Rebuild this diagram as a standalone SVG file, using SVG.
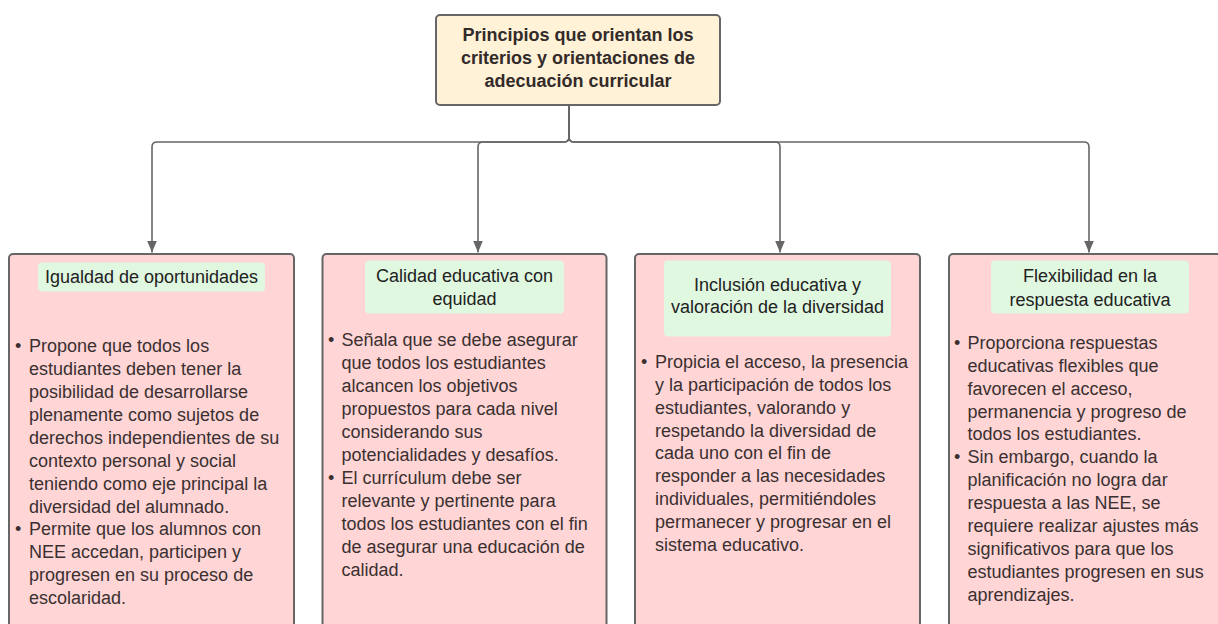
<svg xmlns="http://www.w3.org/2000/svg" width="1218" height="624" viewBox="0 0 1218 624">
<style>
.bg{fill:#ffffff}
.top{fill:#fff2d6;stroke:#666666;stroke-width:2}
.card{fill:#ffd5d6;stroke:#666666;stroke-width:2}
.head{fill:#e0f7e0;stroke:none}
.tt{font-family:"Liberation Sans",Arial,sans-serif;font-size:18px;font-weight:bold;fill:#332a2a;text-anchor:middle}
.ht{font-family:"Liberation Sans",Arial,sans-serif;font-size:18px;fill:#222222;text-anchor:middle}
.bt{font-family:"Liberation Sans",Arial,sans-serif;font-size:18px;fill:#3a3030}
.conn{fill:none;stroke:#666666;stroke-width:1.6}
</style>
<defs>
<marker id="arr" viewBox="0 0 12 10" refX="12" refY="5" markerWidth="12" markerHeight="10" markerUnits="userSpaceOnUse" orient="auto">
<path d="M0 0 L12 5 L0 10 Z" fill="#666666"/>
</marker>
</defs>
<rect class="bg" x="0" y="0" width="1218" height="624"/>
<g id="connectors">
<path class="conn" d="M569 105 V137 Q569 142 564 142 H157 Q152 142 152 147 V252.5" marker-end="url(#arr)"/>
<path class="conn" d="M569 105 V137 Q569 142 564 142 H483 Q478 142 478 147 V252.5" marker-end="url(#arr)"/>
<path class="conn" d="M569 105 V137 Q569 142 574 142 H775 Q780 142 780 147 V252.5" marker-end="url(#arr)"/>
<path class="conn" d="M569 105 V137 Q569 142 574 142 H1084 Q1089 142 1089 147 V252.5" marker-end="url(#arr)"/>
</g>
<g id="root">
<rect class="top" x="436" y="15" width="284" height="90" rx="4"/>
<text class="tt" x="578" y="41">Principios que orientan los</text>
<text class="tt" x="578" y="64">criterios y orientaciones de</text>
<text class="tt" x="578" y="87">adecuación curricular</text>
</g>
<g id="igualdad">
<rect class="card" x="9" y="254" width="285" height="390" rx="4"/>
<rect class="head" x="38" y="262.5" width="227" height="29" rx="4"/>
<text class="ht" x="151.5" y="282.5">Igualdad de oportunidades</text>
<text class="bt" x="15" y="352.2">•</text>
<text class="bt" x="15" y="535.4">•</text>
<text class="bt" x="29">
<tspan x="29" y="352.2">Propone que todos los</tspan>
<tspan x="29" y="375.1">estudiantes deben tener la</tspan>
<tspan x="29" y="398">posibilidad de desarrollarse</tspan>
<tspan x="29" y="420.9">plenamente como sujetos de</tspan>
<tspan x="29" y="443.8">derechos independientes de su</tspan>
<tspan x="29" y="466.7">contexto personal y social</tspan>
<tspan x="29" y="489.6">teniendo como eje principal la</tspan>
<tspan x="29" y="512.5">diversidad del alumnado.</tspan>
<tspan x="29" y="535.4">Permite que los alumnos con</tspan>
<tspan x="29" y="558.3">NEE accedan, participen y</tspan>
<tspan x="29" y="581.2">progresen en su proceso de</tspan>
<tspan x="29" y="604.1">escolaridad.</tspan>
</text>
</g>
<g id="calidad">
<rect class="card" x="322.5" y="254" width="284" height="390" rx="4"/>
<rect class="head" x="365" y="260.5" width="199" height="53" rx="4"/>
<text class="ht" x="464.5" y="282">Calidad educativa con</text>
<text class="ht" x="464.5" y="305">equidad</text>
<text class="bt" x="328" y="345.5">•</text>
<text class="bt" x="328" y="483.5">•</text>
<text class="bt">
<tspan x="341.5" y="345.5">Señala que se debe asegurar</tspan>
<tspan x="341.5" y="368.5">que todos los estudiantes</tspan>
<tspan x="341.5" y="391.5">alcancen los objetivos</tspan>
<tspan x="341.5" y="414.5">propuestos para cada nivel</tspan>
<tspan x="341.5" y="437.5">considerando sus</tspan>
<tspan x="341.5" y="460.5">potencialidades y desafíos.</tspan>
<tspan x="341.5" y="483.5">El currículum debe ser</tspan>
<tspan x="341.5" y="506.5">relevante y pertinente para</tspan>
<tspan x="341.5" y="529.5">todos los estudiantes con el fin</tspan>
<tspan x="341.5" y="552.5">de asegurar una educación de</tspan>
<tspan x="341.5" y="575.5">calidad.</tspan>
</text>
</g>
<g id="inclusion">
<rect class="card" x="635" y="254" width="285" height="390" rx="4"/>
<rect class="head" x="664" y="260.5" width="227" height="76" rx="4"/>
<text class="ht" x="777.5" y="290.5">Inclusión educativa y</text>
<text class="ht" x="777.5" y="312.5">valoración de la diversidad</text>
<text class="bt" x="641" y="368.2">•</text>
<text class="bt">
<tspan x="655" y="368.2">Propicia el acceso, la presencia</tspan>
<tspan x="655" y="391">y la participación de todos los</tspan>
<tspan x="655" y="413.8">estudiantes, valorando y</tspan>
<tspan x="655" y="436.6">respetando la diversidad de</tspan>
<tspan x="655" y="459.4">cada uno con el fin de</tspan>
<tspan x="655" y="482.2">responder a las necesidades</tspan>
<tspan x="655" y="505">individuales, permitiéndoles</tspan>
<tspan x="655" y="527.8">permanecer y progresar en el</tspan>
<tspan x="655" y="550.6">sistema educativo.</tspan>
</text>
</g>
<g id="flexibilidad">
<rect class="card" x="949" y="254" width="285" height="390" rx="4"/>
<rect class="head" x="991" y="260.5" width="198" height="53" rx="4"/>
<text class="ht" x="1090" y="282">Flexibilidad en la</text>
<text class="ht" x="1090" y="305.5">respuesta educativa</text>
<text class="bt" x="954" y="348.8">•</text>
<text class="bt" x="954" y="463.3">•</text>
<text class="bt">
<tspan x="967.5" y="348.8">Proporciona respuestas</tspan>
<tspan x="967.5" y="371.7">educativas flexibles que</tspan>
<tspan x="967.5" y="394.6">favorecen el acceso,</tspan>
<tspan x="967.5" y="417.5">permanencia y progreso de</tspan>
<tspan x="967.5" y="440.4">todos los estudiantes.</tspan>
<tspan x="967.5" y="463.3">Sin embargo, cuando la</tspan>
<tspan x="967.5" y="486.2">planificación no logra dar</tspan>
<tspan x="967.5" y="509.1">respuesta a las NEE, se</tspan>
<tspan x="967.5" y="532">requiere realizar ajustes más</tspan>
<tspan x="967.5" y="554.9">significativos para que los</tspan>
<tspan x="967.5" y="577.8">estudiantes progresen en sus</tspan>
<tspan x="967.5" y="600.7">aprendizajes.</tspan>
</text>
</g>
</svg>
